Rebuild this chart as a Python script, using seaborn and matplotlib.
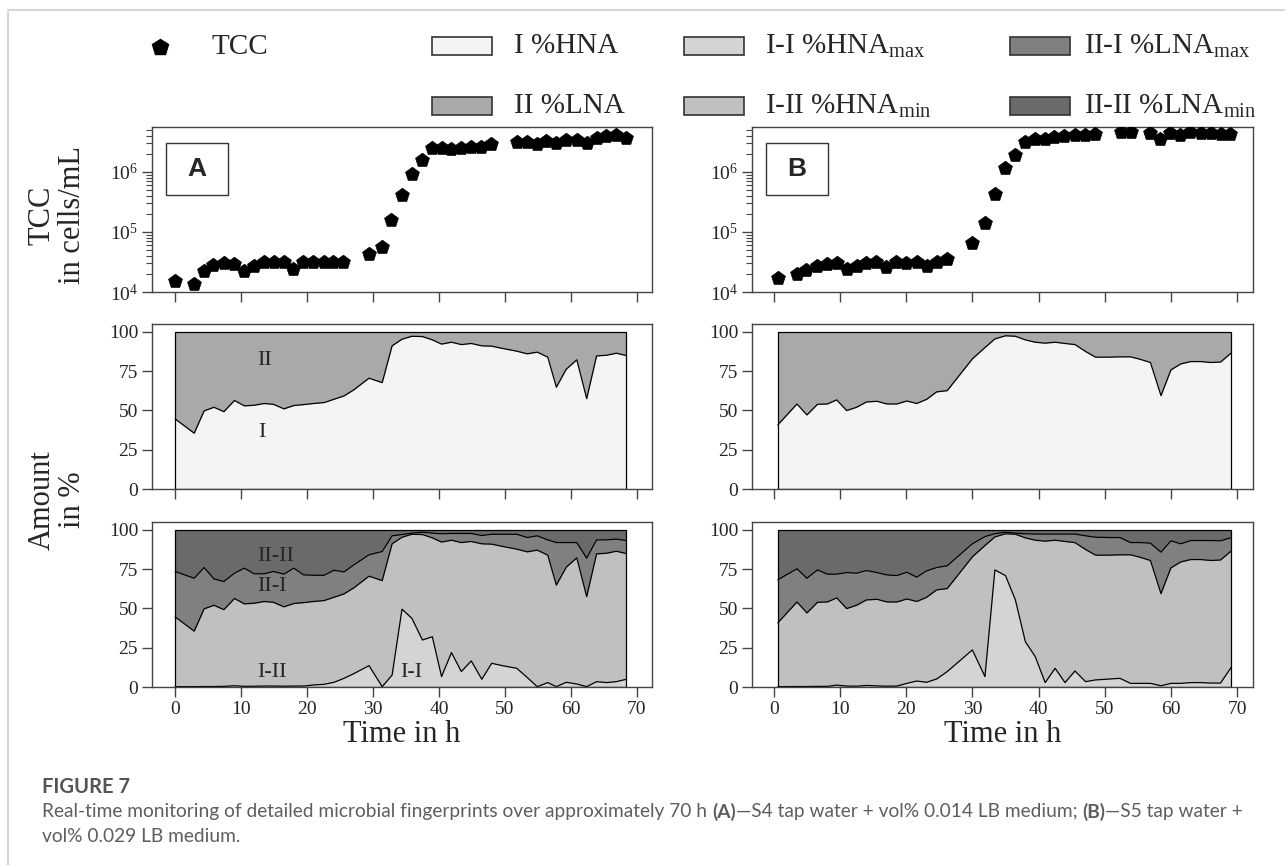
import numpy as np
import matplotlib
matplotlib.use("Agg")
import matplotlib.pyplot as plt
import seaborn as sns
from matplotlib.patches import Rectangle
from matplotlib.lines import Line2D
from matplotlib.ticker import LogLocator, NullFormatter

# ---------------- data ----------------
# -- TCC (cells/mL) --
tcc_time_A = [0.0, 2.8, 4.4, 5.8, 7.4, 8.9, 10.5, 12.0, 13.5, 15.0, 16.5, 17.9, 19.4, 20.9,
              22.5, 24.0, 25.5, 29.4, 31.4, 32.8, 34.4, 35.9, 37.4, 38.9, 40.4, 41.9, 43.3,
              44.8, 46.4, 47.9, 51.9, 53.4, 54.9, 56.3, 57.8, 59.3, 60.9, 62.4, 63.9, 65.3,
              66.9, 68.4]
tcc_A = [1.5e4, 1.38e4, 2.2e4, 2.8e4, 3.0e4, 2.9e4, 2.2e4, 2.7e4, 3.1e4, 3.1e4, 3.1e4, 2.4e4,
         3.2e4, 3.2e4, 3.1e4, 3.2e4, 3.1e4, 4.3e4, 5.7e4, 1.6e5, 4.2e5, 9.3e5, 1.6e6, 2.5e6,
         2.5e6, 2.45e6, 2.55e6, 2.65e6, 2.65e6, 2.9e6, 3.1e6, 3.15e6, 2.9e6, 3.3e6, 3.0e6,
         3.35e6, 3.35e6, 3.0e6, 3.7e6, 4.0e6, 4.2e6, 3.7e6]

tcc_time_B = [0.6, 3.5, 4.9, 6.5, 8.0, 9.5, 11.0, 12.5, 14.0, 15.5, 17.0, 18.5, 20.0, 21.6,
              23.1, 24.6, 26.1, 30.0, 31.9, 33.4, 35.0, 36.5, 37.9, 39.4, 40.9, 42.4, 43.9,
              45.5, 47.0, 48.5, 52.4, 53.9, 56.9, 58.4, 59.9, 61.4, 62.9, 64.5, 66.0, 67.5, 69.0]
tcc_B = [1.7e4, 2.0e4, 2.3e4, 2.7e4, 2.9e4, 3.0e4, 2.4e4, 2.7e4, 3.0e4, 3.1e4, 2.6e4, 3.2e4,
         3.0e4, 3.2e4, 2.7e4, 3.2e4, 3.5e4, 6.5e4, 1.4e5, 4.3e5, 1.15e6, 1.95e6, 3.1e6, 3.5e6,
         3.5e6, 3.8e6, 4.0e6, 4.1e6, 4.1e6, 4.25e6, 4.6e6, 4.7e6, 4.4e6, 3.6e6, 4.4e6, 4.2e6,
         4.6e6, 4.4e6, 4.5e6, 4.3e6, 4.3e6]

# -- gate fractions in % (cumulative boundaries) --
time_A = [0.0, 2.9, 4.4, 5.9, 7.4, 9.0, 10.5, 12.0, 13.5, 14.9, 16.5, 18.0, 19.5, 21.0, 22.6,
          24.1, 25.6, 27.1, 29.4, 31.4, 32.9, 34.4, 35.9, 37.5, 39.0, 40.4, 41.9, 43.4, 44.9,
          46.5, 48.0, 49.7, 51.8, 53.4, 54.9, 56.5, 57.8, 59.3, 60.9, 62.4, 63.9, 65.4, 66.9, 68.4]
hna_max_A = [0.2, 0.2, 0.3, 0.3, 0.4, 0.8, 0.4, 0.5, 0.6, 0.6, 0.5, 0.6, 0.6, 1.3, 1.7, 3.0,
             5.5, 8.5, 13.6, 0.2, 7.6, 49.5, 43.7, 29.9, 32.0, 6.6, 21.9, 9.8, 16.6, 4.9, 15.1,
             13.5, 11.9, 6.0, 0.2, 2.8, 0.2, 3.0, 1.9, 0.2, 3.4, 2.8, 3.4, 4.9]
hna_A = [44.6, 35.5, 49.7, 52.0, 49.2, 56.3, 52.9, 53.3, 54.4, 53.9, 51.0, 53.1, 53.7, 54.4,
         55.0, 57.1, 59.2, 63.1, 70.5, 67.7, 91.1, 95.3, 97.2, 97.0, 94.9, 92.2, 93.4, 91.9,
         92.6, 91.1, 90.9, 89.4, 87.7, 86.0, 87.1, 83.9, 64.8, 76.2, 82.2, 57.5, 84.7, 85.1,
         86.4, 84.9]
lna_max_A = [73.5, 69.2, 76.0, 68.8, 67.1, 72.4, 75.6, 72.0, 72.0, 73.5, 71.8, 75.6, 71.3,
             71.1, 71.1, 74.3, 73.2, 77.7, 84.1, 86.2, 96.2, 97.0, 97.9, 98.5, 97.9, 97.5,
             97.7, 97.7, 97.7, 96.4, 97.2, 97.2, 97.2, 95.1, 96.2, 93.6, 91.9, 91.9, 91.9,
             82.0, 93.6, 93.6, 94.1, 93.2]

time_B = [0.6, 3.5, 5.0, 6.6, 8.1, 9.5, 11.0, 12.5, 14.0, 15.6, 17.1, 18.6, 20.1, 21.6, 23.1,
          24.6, 26.2, 30.0, 31.9, 33.4, 35.0, 36.5, 38.0, 39.5, 41.0, 42.5, 44.0, 45.5, 47.1,
          48.6, 50.8, 52.3, 53.9, 55.3, 56.9, 58.5, 60.0, 61.5, 63.0, 64.5, 66.0, 67.5, 69.1]
hna_max_B = [0.2, 0.3, 0.3, 0.4, 0.4, 1.2, 0.6, 0.5, 1.0, 0.7, 0.5, 0.6, 2.3, 3.8, 3.0, 5.1,
             9.8, 23.6, 6.6, 74.5, 70.9, 55.4, 28.9, 19.3, 2.8, 11.9, 2.8, 10.2, 3.4, 4.5, 5.1,
             5.5, 2.3, 2.3, 2.3, 0.8, 2.3, 2.3, 2.8, 2.8, 2.5, 2.5, 12.5]
hna_B = [40.8, 54.1, 47.1, 53.9, 54.1, 56.7, 49.9, 52.0, 55.4, 55.8, 54.1, 54.1, 56.0, 54.4,
         57.1, 61.8, 62.6, 82.8, 90.0, 95.5, 97.5, 97.2, 94.9, 93.4, 92.8, 93.4, 92.6, 91.9,
         87.5, 83.9, 83.9, 84.1, 84.1, 82.6, 80.5, 59.4, 75.8, 79.6, 81.1, 81.1, 80.5, 80.8, 86.5]
lna_max_B = [68.2, 75.2, 69.2, 74.5, 71.8, 71.8, 72.8, 72.4, 74.1, 72.8, 71.3, 70.9, 73.0,
             69.9, 73.9, 76.0, 77.1, 91.1, 95.7, 97.5, 98.5, 97.9, 97.5, 97.3, 97.3, 97.3,
             97.3, 97.3, 96.2, 95.3, 95.1, 95.1, 91.9, 91.9, 91.5, 85.8, 93.0, 91.1, 93.2,
             93.2, 93.2, 93.0, 95.0]

legend_labels = [r"I %HNA", r"II %LNA", r"I-I %HNA$_{\mathrm{max}}$",
                 r"I-II %HNA$_{\mathrm{min}}$", r"II-I %LNA$_{\mathrm{max}}$",
                 r"II-II %LNA$_{\mathrm{min}}$"]

# ---------------- style ----------------
sns.set_style("ticks")
plt.rcParams["font.family"] = ["Liberation Serif", "DejaVu Serif"]
plt.rcParams["mathtext.fontset"] = "custom"
plt.rcParams["mathtext.rm"] = "Liberation Serif"
plt.rcParams["mathtext.it"] = "Liberation Serif:italic"
plt.rcParams["mathtext.bf"] = "Liberation Serif:bold"

col_I = "#f4f4f4"
col_II = "#a9a9a9"
col_I_I = "#d4d4d4"
col_I_II = "#c0c0c0"
col_II_I = "#808080"
col_II_II = "#6a6a6a"
frame = "#444444"

W, H = 1285, 865
fig = plt.figure(figsize=(W / 100, H / 100), dpi=100)


def ax_at(x0, y0, x1, y1):
    # pixel box, origin top-left
    return fig.add_axes([x0 / W, 1 - y1 / H, (x1 - x0) / W, (y1 - y0) / H])


def style_ax(ax, xlabels):
    for s in ax.spines.values():
        s.set_color(frame)
        s.set_linewidth(1.0)
    ax.tick_params(direction="out", length=7, width=1, color=frame, labelsize=14,
                   pad=3, labelbottom=xlabels)
    ax.set_xticks(range(0, 80, 10))
    ax.set_xlabel("")
    ax.set_ylabel("")


def draw_column(x0, x1, tt, tcc, t, low, hna, upper, letter, xlim):
    # -- TCC panel --
    ax1 = ax_at(x0, 127, x1, 292)
    sns.scatterplot(x=tt, y=tcc, ax=ax1, marker="p", s=110, color="black",
                    edgecolor="black", linewidth=0.5, legend=False, zorder=3)
    ax1.set_yscale("log")
    ax1.set_ylim(1e4, 5.6e6)
    ax1.yaxis.set_major_locator(LogLocator(base=10, numticks=10))
    ax1.yaxis.set_minor_locator(LogLocator(base=10, subs=np.arange(2, 10), numticks=20))
    ax1.yaxis.set_minor_formatter(NullFormatter())
    ax1.tick_params(which="minor", direction="out", length=4, width=0.8, color=frame)
    ax1.set_xlim(*xlim)
    style_ax(ax1, False)
    ax1.add_patch(Rectangle((0.028, 0.585), 0.124, 0.32, transform=ax1.transAxes,
                            facecolor="white", edgecolor="#333333", lw=1.0, zorder=4))
    ax1.text(0.09, 0.745, letter, transform=ax1.transAxes, ha="center", va="center",
             family="Liberation Sans", fontweight="bold", fontsize=19, zorder=5)

    # -- main gates --
    ax2 = ax_at(x0, 324, x1, 489)
    ax2.fill_between(t, 0, hna, facecolor=col_I, lw=0)
    ax2.fill_between(t, hna, 100, facecolor=col_II, lw=0)
    sns.lineplot(x=t, y=hna, ax=ax2, color="black", lw=0.9, estimator=None, sort=False)
    ax2.fill_between(t, 0, 100, facecolor="none", edgecolor="black", lw=0.9)
    ax2.set_ylim(0, 105)
    ax2.set_yticks([0, 25, 50, 75, 100])
    ax2.set_xlim(*xlim)
    style_ax(ax2, False)

    # -- sub gates --
    ax3 = ax_at(x0, 522, x1, 687)
    ax3.fill_between(t, 0, low, facecolor=col_I_I, lw=0)
    ax3.fill_between(t, low, hna, facecolor=col_I_II, lw=0)
    ax3.fill_between(t, hna, upper, facecolor=col_II_I, lw=0)
    ax3.fill_between(t, upper, 100, facecolor=col_II_II, lw=0)
    for yy in (low, hna, upper):
        sns.lineplot(x=t, y=yy, ax=ax3, color="black", lw=0.9, estimator=None, sort=False)
    ax3.fill_between(t, 0, 100, facecolor="none", edgecolor="black", lw=0.9)
    ax3.set_ylim(0, 105)
    ax3.set_yticks([0, 25, 50, 75, 100])
    ax3.set_xlim(*xlim)
    style_ax(ax3, True)
    fig.text((x0 + x1) / 2 / W, 1 - 735 / H, "Time in h", ha="center", va="center",
             fontsize=22)
    return ax1, ax2, ax3


a1, a2, a3 = draw_column(152, 652, tcc_time_A, tcc_A, time_A, hna_max_A, hna_A, lna_max_A,
                         "A", (-3.5, 72.3))
b1, b2, b3 = draw_column(752, 1253, tcc_time_B, tcc_B, time_B, hna_max_B, hna_B, lna_max_B,
                         "B", (-3.3, 72.4))

# gate labels in panel A
for ax, txt, x, y in [(a2, "II", 13.6, 82), (a2, "I", 13.2, 36),
                      (a3, "II-II", 15.2, 83), (a3, "II-I", 14.7, 64),
                      (a3, "I-II", 14.7, 9), (a3, "I-I", 35.8, 9)]:
    ax.text(x, y, txt, ha="center", va="center", fontsize=16)

# y labels
fig.text(42 / W, 1 - 215 / H, "TCC", rotation=90, ha="center", va="center", fontsize=22)
fig.text(73 / W, 1 - 215 / H, "in cells/mL", rotation=90, ha="center", va="center", fontsize=22)
fig.text(42 / W, 1 - 500 / H, "Amount", rotation=90, ha="center", va="center", fontsize=22)
fig.text(73 / W, 1 - 500 / H, "in %", rotation=90, ha="center", va="center", fontsize=22)

# ---------------- legend ----------------
fig.add_artist(Line2D([160 / W], [1 - 47 / H], marker="p", markersize=12, color="black",
                      transform=fig.transFigure))
fig.text(212 / W, 1 - 47 / H, "TCC", ha="left", va="center", fontsize=21)
leg_cols = [col_I, col_II, col_I_I, col_I_II, col_II_I, col_II_II]
patch_x = [432, 432, 684, 684, 1010, 1010]
text_x = [514, 514, 765, 765, 1084, 1084]
row_y = [46, 106, 46, 106, 46, 106]
for lab, c, px, tx, ry in zip(legend_labels, leg_cols, patch_x, text_x, row_y):
    fig.add_artist(Rectangle((px / W, 1 - (ry + 8.5) / H), 60 / W, 17 / H,
                             transform=fig.transFigure, facecolor=c, edgecolor="#333333",
                             lw=1.2))
    fig.text(tx / W, 1 - ry / H, lab, ha="left", va="center", fontsize=21)

# ---------------- card border + caption ----------------
fig.add_artist(Line2D([8 / W, 8 / W], [0, 1 - 12 / H], color="#d6d6d6", lw=1.5,
                      transform=fig.transFigure))
fig.add_artist(Line2D([8 / W, 1], [1 - 10 / H, 1 - 10 / H], color="#d6d6d6", lw=1.5,
                      transform=fig.transFigure))

cap_font = "Lato"
cap_col = "#5e5e5e"
renderer = fig.canvas.get_renderer()


def rich_line(x, y, parts, size):
    for s, w in parts:
        t = fig.text(x / W, 1 - y / H, s, fontsize=size, color=cap_col, fontweight=w,
                     family=cap_font, ha="left", va="center")
        x += t.get_window_extent(renderer=renderer).width


line1 = [("Real-time monitoring of detailed microbial fingerprints over approximately 70 h ", "normal"),
         ("(A)", "bold"), ("\u2014S4 tap water + vol% 0.014 LB medium; ", "normal"),
         ("(B)", "bold"), ("\u2014S5 tap water +", "normal")]
probe = fig.text(0, 0, "".join(p for p, _ in line1), fontsize=12, family=cap_font)
cap_size = 12 * 1200 / probe.get_window_extent(renderer=renderer).width
probe.remove()

fig.text(42 / W, 1 - 787 / H, "FIGURE 7", fontsize=cap_size * 1.05, color="#555555",
         fontweight="bold", family=cap_font, ha="left", va="center")
rich_line(42, 812, line1, cap_size)
rich_line(42, 837, [("vol% 0.029 LB medium.", "normal")], cap_size)

fig.savefig("out.png", dpi=100)
